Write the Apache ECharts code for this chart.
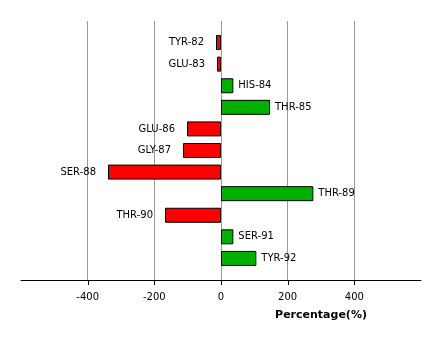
<!DOCTYPE html>
<html>
<head>
<meta charset="utf-8">
<script src="https://cdn.jsdelivr.net/npm/echarts@6/dist/echarts.min.js"></script>
<style>
  html, body { margin: 0; padding: 0; background: #fff; }
  #chart { width: 441px; height: 341px; }
</style>
</head>
<body>
<div id="chart"></div>
<script>
// Residues along the chain, top to bottom
const residues = ['TYR-82', 'GLU-83', 'HIS-84', 'THR-85', 'GLU-86', 'GLY-87',
                  'SER-88', 'THR-89', 'THR-90', 'SER-91', 'TYR-92'];
// Percentage change per residue
const percentages = [-15, -12, 37, 147, -102, -114, -339, 277, -168, 37, 106];
// Labelled ticks on the percentage axis
const tickValues = [-400, -200, 0, 200, 400];

const RED = '#ff0000';
const GREEN = '#00b000';

// Pad the category list with blank slots so bars sit half a step in from the edges
const categories = [''].concat(residues, ['']);
const barData = [null].concat(percentages.map(function (v) {
  const neg = v < 0;
  return {
    value: v,
    itemStyle: { color: neg ? RED : GREEN },
    label: {
      position: neg ? 'left' : 'right',
      distance: neg ? 12 : 5
    }
  };
}), [null]);

const axisFont = { fontFamily: 'DejaVu Sans', fontSize: 10, color: '#000' };
const tickLen = 5;

const chart = echarts.init(document.getElementById('chart'), null, { renderer: 'canvas' });
chart.setOption({
  animation: false,
  backgroundColor: '#ffffff',
  grid: { left: 21, width: 400, top: 21, bottom: 61, containLabel: false },
  xAxis: {
    type: 'value',
    min: -600,
    max: 600,
    interval: 200,
    name: 'Percentage(%)',
    nameLocation: 'middle',
    nameGap: 30,
    nameTextStyle: {
      fontFamily: 'DejaVu Sans',
      fontWeight: 'bold',
      fontSize: 11,
      color: '#000',
      padding: [0, 0, 0, 200]
    },
    axisLine: { show: true, onZero: false, lineStyle: { color: '#000', width: 1 } },
    axisTick: { show: false },
    axisLabel: Object.assign({
      showMinLabel: false,
      showMaxLabel: false,
      margin: 12,
      formatter: function (v) { return String(v); }
    }, axisFont),
    splitLine: {
      show: true,
      showMinLine: false,
      showMaxLine: false,
      lineStyle: { color: '#999999', width: 1 }
    }
  },
  yAxis: {
    type: 'category',
    data: categories,
    inverse: true,
    boundaryGap: false,
    axisLine: { show: false },
    axisTick: { show: false },
    axisLabel: { show: false },
    splitLine: { show: false }
  },
  series: [{
    type: 'bar',
    data: barData,
    barWidth: 15,
    itemStyle: { borderColor: '#000', borderWidth: 1 },
    label: Object.assign({
      show: true,
      formatter: function (p) { return residues[p.dataIndex - 1]; }
    }, axisFont)
  }]
});

// Tick marks below the axis line, placed through the axis scales
const tickMarks = tickValues.map(function (v) {
  const p = chart.convertToPixel({ xAxisIndex: 0, yAxisIndex: 0 }, [v, categories.length - 1]);
  const x = Math.round(p[0]) + 0.5;
  const y = Math.round(p[1]);
  return {
    type: 'line',
    z: 100,
    silent: true,
    shape: { x1: x, y1: y, x2: x, y2: y + tickLen },
    style: { stroke: '#000000', lineWidth: 1 }
  };
});
chart.setOption({ graphic: { elements: tickMarks } });
</script>
</body>
</html>
